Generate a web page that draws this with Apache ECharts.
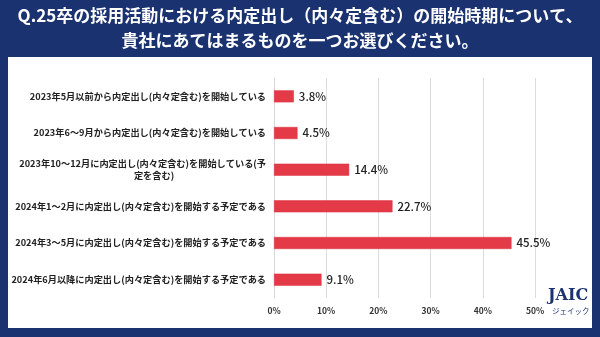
<!DOCTYPE html>
<html><head><meta charset="utf-8">
<script src="https://cdn.jsdelivr.net/npm/echarts@6/dist/echarts.min.js"></script>
<style>html,body{margin:0;padding:0;background:#1b3270;}#c{width:600px;height:337px;}</style>
</head><body><div id="c"></div>
<script>
const titleLines = ['Q.25卒の採用活動における内定出し（内々定含む）の開始時期について、', '貴社にあてはまるものを一つお選びください。'];
const categories = [
  '2023年5月以前から内定出し(内々定含む)を開始している',
  '2023年6～9月から内定出し(内々定含む)を開始している',
  '2023年10～12月に内定出し(内々定含む)を開始している(予\n定を含む)　　　　　　　　　　',
  '2024年1～2月に内定出し(内々定含む)を開始する予定である',
  '2024年3～5月に内定出し(内々定含む)を開始する予定である',
  '2024年6月以降に内定出し(内々定含む)を開始する予定である'
];
const values = [3.8, 4.5, 14.4, 22.7, 45.5, 9.1];
const xTicks = [0, 10, 20, 30, 40, 50];

const chart = echarts.init(document.getElementById('c'));
const font = '"Noto Sans CJK JP", "Noto Sans", sans-serif';
chart.setOption({
  backgroundColor: '#1b3270',
  animation: false,
  graphic: [
    {type: 'rect', left: 8, top: 57, shape: {width: 584, height: 271}, style: {fill: '#ffffff'}, z: -10},
    {type: 'text', left: 'center', top: 7, style: {text: titleLines[0], fill: '#ffffff', font: 'bold 17px ' + font}},
    {type: 'text', left: 'center', top: 32, style: {text: titleLines[1], fill: '#ffffff', font: 'bold 17px ' + font}},
    {type: 'text', left: 548, top: 288, style: {text: 'JAIC', fill: '#1b3270', font: 'bold 16px "DejaVu Serif", "Liberation Serif", serif'}},
    {type: 'text', left: 552, top: 307, style: {text: 'ジェイック', fill: '#1b3270', font: '7.5px ' + font}}
  ],
  grid: {left: 274, right: 65, top: 78, bottom: 39, containLabel: false},
  xAxis: {
    type: 'value', min: xTicks[0], max: xTicks[xTicks.length - 1], interval: 10,
    axisLine: {show: false}, axisTick: {show: false},
    splitLine: {lineStyle: {color: '#dcdcdc', width: 1}},
    axisLabel: {formatter: v => v + '%', color: '#333', fontSize: 8.5, fontWeight: 'bold', fontFamily: font, margin: 9}
  },
  yAxis: {
    type: 'category', data: categories, inverse: true,
    axisLine: {lineStyle: {color: '#d8d8d8'}}, axisTick: {show: false},
    axisLabel: {color: '#222', fontSize: 9.2, fontWeight: 'bold', fontFamily: font, margin: 8, lineHeight: 12, align: 'right'}
  },
  series: [{
    type: 'bar', data: values, barWidth: 12,
    itemStyle: {color: '#e43a48', borderColor: '#d8303e', borderWidth: 0.5},
    label: {show: true, position: 'right', formatter: p => p.value + '%', color: '#222', fontSize: 11.5, fontWeight: 500, fontFamily: font, distance: 5}
  }]
});
</script></body></html>
